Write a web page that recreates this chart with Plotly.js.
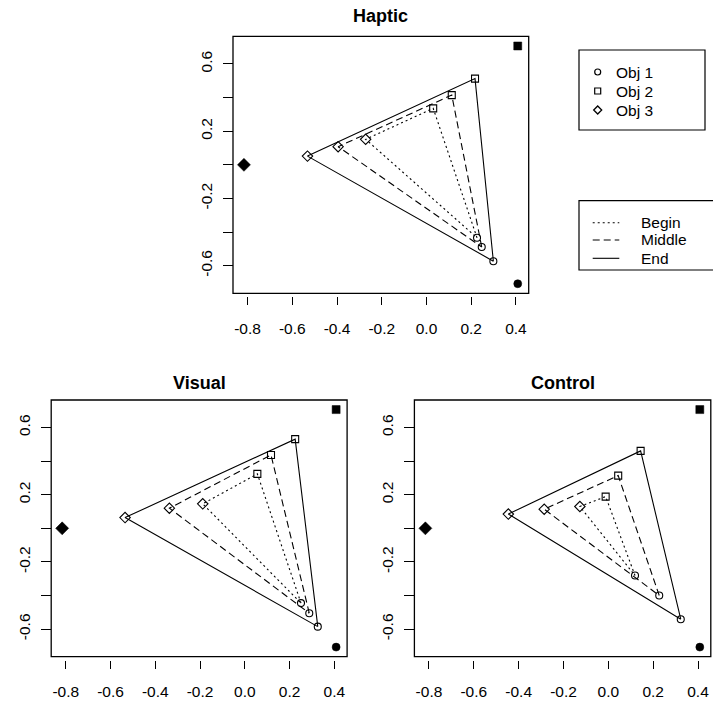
<!DOCTYPE html>
<html>
<head>
<meta charset="utf-8">
<script src="https://cdn.plot.ly/plotly-3.0.1.min.js"></script>
<style>html,body{margin:0;padding:0;background:#fff;}#chart{width:713px;height:704px;}</style>
</head>
<body>
<div id="chart"></div>
<script>
// ---------- data ----------
const panels = ['Haptic', 'Visual', 'Control'];
const stages = ['Begin', 'Middle', 'End'];
const objects = ['Obj 1', 'Obj 2', 'Obj 3'];

// fixed reference (anchor) positions of the three objects
const anchorX = [0.408, 0.408, -0.816];
const anchorY = [-0.707, 0.707, 0.0];

// object positions [Obj 1, Obj 2, Obj 3] per panel and stage
const hapticBeginX  = [0.226, 0.030, -0.272];
const hapticBeginY  = [-0.434, 0.336, 0.152];
const hapticMiddleX = [0.247, 0.113, -0.395];
const hapticMiddleY = [-0.489, 0.415, 0.108];
const hapticEndX    = [0.299, 0.217, -0.532];
const hapticEndY    = [-0.573, 0.513, 0.052];

const visualBeginX  = [0.251, 0.056, -0.188];
const visualBeginY  = [-0.445, 0.324, 0.146];
const visualMiddleX = [0.288, 0.117, -0.337];
const visualMiddleY = [-0.505, 0.437, 0.120];
const visualEndX    = [0.326, 0.225, -0.535];
const visualEndY    = [-0.585, 0.531, 0.064];

const controlBeginX  = [0.119, -0.012, -0.127];
const controlBeginY  = [-0.281, 0.189, 0.130];
const controlMiddleX = [0.227, 0.044, -0.286];
const controlMiddleY = [-0.400, 0.314, 0.114];
const controlEndX    = [0.323, 0.144, -0.446];
const controlEndY    = [-0.541, 0.461, 0.085];

const xTickVals = [-0.8, -0.6, -0.4, -0.2, 0.0, 0.2, 0.4];
const xTickText = ['-0.8', '-0.6', '-0.4', '-0.2', '0.0', '0.2', '0.4'];
const yTickVals = [-0.6, -0.4, -0.2, 0.0, 0.2, 0.4, 0.6];
const yTickText = ['-0.6', '', '-0.2', '', '0.2', '', '0.6'];

// ---------- styling / layout ----------
const W = 713, H = 704;
const FONT = 'Liberation Sans, Arial, Helvetica, sans-serif';
const px = v => v / W;
const py = v => 1 - v / H;

const panelData = {
  Haptic:  {Begin: [hapticBeginX, hapticBeginY], Middle: [hapticMiddleX, hapticMiddleY], End: [hapticEndX, hapticEndY]},
  Visual:  {Begin: [visualBeginX, visualBeginY], Middle: [visualMiddleX, visualMiddleY], End: [visualEndX, visualEndY]},
  Control: {Begin: [controlBeginX, controlBeginY], Middle: [controlMiddleX, controlMiddleY], End: [controlEndX, controlEndY]}
};
// pixel boxes of the plotting regions [left, right, top, bottom] and title centre y
const boxes = {
  Haptic:  [233.0, 528.7, 36.4, 293.3, 16],
  Visual:  [51.2, 347.1, 400.0, 656.7, 383],
  Control: [414.4, 710.8, 400.0, 656.7, 383]
};
const dashOf = {Begin: '2px,3px', Middle: '7px,4px', End: 'solid'};
const openSym = ['circle-open', 'square-open', 'diamond-open'];
const fillSym = ['circle', 'square', 'diamond'];
const openSize = [7, 7, 8];
const fillSize = [8, 8, 10];

const traces = [];
const layout = {
  width: W, height: H,
  margin: {l: 0, r: 0, t: 0, b: 0},
  paper_bgcolor: '#ffffff', plot_bgcolor: '#ffffff',
  showlegend: false,
  font: {family: FONT, color: '#000', size: 15},
  shapes: [], annotations: []
};

panels.forEach((p, i) => {
  const ax = i === 0 ? '' : String(i + 1);
  const xa = 'x' + ax, ya = 'y' + ax;
  const b = boxes[p];
  const xd = [px(b[0]), px(b[1])];
  const yd = [py(b[3]), py(b[2])];
  layout['xaxis' + ax] = {
    domain: xd, range: [-0.865, 0.457], anchor: 'free', position: yd[0] - 3 / H,
    tickvals: xTickVals, ticktext: xTickText, ticks: 'outside', ticklen: 8, tickwidth: 1,
    tickcolor: '#000', showgrid: false, zeroline: false, showline: false,
    tickfont: {family: FONT, size: 15.5, color: '#000'}, ticklabelstandoff: 10, fixedrange: true
  };
  layout['yaxis' + ax] = {
    domain: yd, range: [-0.764, 0.764], anchor: 'free', position: xd[0],
    tickvals: yTickVals, ticktext: yTickText, ticks: 'outside', ticklen: 10, tickwidth: 1,
    tickcolor: '#000', showgrid: false, zeroline: false, showline: false, tickangle: -90,
    tickfont: {family: FONT, size: 15.5, color: '#000'}, ticklabelstandoff: 5, fixedrange: true
  };
  layout.shapes.push({type: 'rect', xref: xa + ' domain', yref: ya + ' domain', x0: 0, x1: 1, y0: 0, y1: 1,
    line: {color: '#000', width: 1.3}, fillcolor: 'rgba(0,0,0,0)', layer: 'above'});
  layout.annotations.push({text: '<b>' + p + '</b>', xref: 'paper', yref: 'paper',
    x: (xd[0] + xd[1]) / 2, y: py(b[4]), xanchor: 'center', yanchor: 'middle',
    showarrow: false, font: {family: FONT, size: 18, color: '#000'}});

  stages.forEach(s => {
    const [xs, ys] = panelData[p][s];
    traces.push({x: xs.concat([xs[0]]), y: ys.concat([ys[0]]), xaxis: xa, yaxis: ya, type: 'scatter',
      mode: 'lines', line: {color: '#000', width: 1.1, dash: dashOf[s]}, hoverinfo: 'skip'});
    traces.push({x: xs, y: ys, xaxis: xa, yaxis: ya, type: 'scatter', mode: 'markers',
      marker: {symbol: openSym, size: openSize, color: '#000', opacity: 1, line: {color: '#000', width: 1.1}},
      hoverinfo: 'skip'});
  });
  traces.push({x: anchorX, y: anchorY, xaxis: xa, yaxis: ya, type: 'scatter', mode: 'markers',
    marker: {symbol: fillSym, size: fillSize, color: '#000000', opacity: 1, line: {color: '#000000', width: 0.5}},
    hoverinfo: 'skip'});
});

// ---------- legends (decoration in paper px) ----------
const lb1 = [579, 705, 50, 130];
layout.shapes.push({type: 'rect', xref: 'paper', yref: 'paper', x0: px(lb1[0]), x1: px(lb1[1]), y0: py(lb1[3]), y1: py(lb1[2]),
  line: {color: '#000', width: 1.2}});
const objRowY = [72, 91, 110];
objects.forEach((o, k) => {
  const cx = 597.7, cy = objRowY[k];
  if (k === 0) {
    layout.shapes.push({type: 'circle', xref: 'paper', yref: 'paper', x0: px(cx - 3), x1: px(cx + 3), y0: py(cy + 3), y1: py(cy - 3), line: {color: '#000', width: 1.2}});
  } else if (k === 1) {
    layout.shapes.push({type: 'rect', xref: 'paper', yref: 'paper', x0: px(cx - 3), x1: px(cx + 3), y0: py(cy + 3), y1: py(cy - 3), line: {color: '#000', width: 1.2}});
  } else {
    const d = 4;
    layout.shapes.push({type: 'path', xref: 'paper', yref: 'paper',
      path: `M ${px(cx - d)} ${py(cy)} L ${px(cx)} ${py(cy - d)} L ${px(cx + d)} ${py(cy)} L ${px(cx)} ${py(cy + d)} Z`,
      line: {color: '#000', width: 1.3}});
  }
  layout.annotations.push({text: o, xref: 'paper', yref: 'paper', x: px(614), y: py(cy), xanchor: 'left', yanchor: 'middle',
    showarrow: false, font: {family: FONT, size: 15.5, color: '#000'}});
});

const lb2 = [579, 716, 200.7, 270];
layout.shapes.push({type: 'rect', xref: 'paper', yref: 'paper', x0: px(lb2[0]), x1: px(lb2[1]), y0: py(lb2[3]), y1: py(lb2[2]),
  line: {color: '#000', width: 1.2}});
const stageRowY = [222.7, 240, 258.3];
stages.forEach((s, k) => {
  const cy = stageRowY[k];
  layout.shapes.push({type: 'line', xref: 'paper', yref: 'paper', x0: px(592.7), x1: px(619.3), y0: py(cy), y1: py(cy),
    line: {color: '#000', width: 1.1, dash: dashOf[s]}});
  layout.annotations.push({text: s, xref: 'paper', yref: 'paper', x: px(639), y: py(cy), xanchor: 'left', yanchor: 'middle',
    showarrow: false, font: {family: FONT, size: 15.5, color: '#000'}});
});

Plotly.newPlot('chart', traces, layout, {displayModeBar: false, staticPlot: true});
</script>
</body>
</html>
